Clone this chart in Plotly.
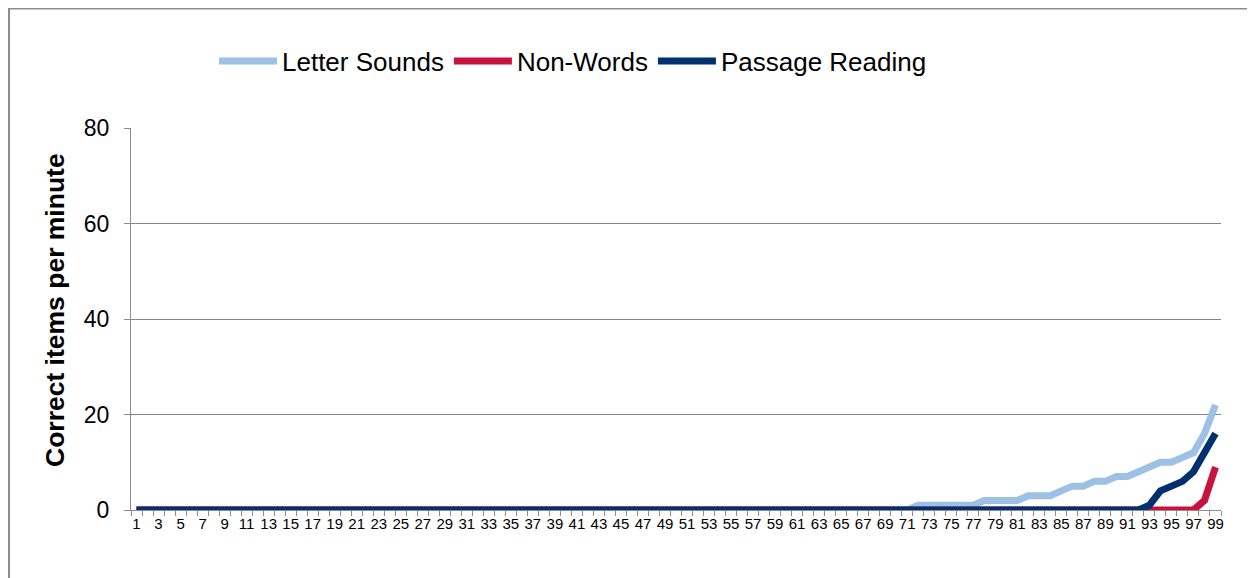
import plotly.graph_objects as go

categories = list(range(1, 100))
letter_sounds = [0] * 71 + [1] * 6 + [2] * 4 + [3] * 3 + [4, 5, 5, 6, 6, 7, 7] + [8, 9, 10, 10, 11, 12, 16, 22]
non_words = [0] * 97 + [2, 9]
passage_reading = [0] * 92 + [1, 4, 5, 6, 8, 12, 16]
x_tick_labels = [str(c) for c in categories if c % 2 == 1]
x_tick_vals = [c for c in categories if c % 2 == 1]
y_ticks = [0, 20, 40, 60, 80]

FONT = "Arial, Liberation Sans, sans-serif"
# page has an 8px body margin, so figure coordinates are page coordinates minus 8
W, H = 1247, 570
L, R, T, B = 123, 34, 120, 68

fig = go.Figure()
series = [
    ("Letter Sounds", letter_sounds, "#9DC0E5"),
    ("Non-Words", non_words, "#C8133E"),
    ("Passage Reading", passage_reading, "#003070"),
]
for name, vals, col in series:
    fig.add_trace(go.Scatter(x=categories, y=vals, name=name, mode="lines",
                             line=dict(color=col, width=7)))

pw = W - L - R
ph = H - T - B
fig.add_shape(type="rect", xref="paper", yref="paper",
              x0=(1 - L) / pw, x1=(W + 20 - L) / pw,
              y0=(H - B - (H + 20)) / ph, y1=(H - B - 0.5) / ph,
              line=dict(color="#8C8C8C", width=2), fillcolor="rgba(0,0,0,0)", layer="below")

fig.add_annotation(text="<b>Correct items per minute</b>", textangle=-90,
                   xref="paper", yref="paper", showarrow=False,
                   x=(47 - L) / pw, y=(H - B - 302) / ph, xanchor="center", yanchor="middle",
                   font=dict(size=26.5, family=FONT, color="black"))

fig.update_layout(
    width=W, height=H,
    margin=dict(l=L, r=R, t=T, b=B),
    paper_bgcolor="white", plot_bgcolor="white",
    font=dict(family=FONT, color="black"),
    showlegend=True,
    legend=dict(orientation="h", x=(206 - L) / pw, xanchor="left",
                y=(H - B - 53) / ph, yanchor="middle",
                font=dict(size=26, family=FONT), itemwidth=58,
                bgcolor="rgba(0,0,0,0)"),
    xaxis=dict(range=[0.5, 99.5], tickmode="array", tickvals=x_tick_vals, ticktext=x_tick_labels,
               ticks="", showgrid=False, zeroline=False,
               showline=True, linecolor="#8C8C8C", linewidth=1,
               tickfont=dict(size=15, family=FONT, color="black"),
               minor=dict(ticks="outside", tickmode="linear", tick0=0.5, dtick=1, ticklen=5,
                          tickcolor="#8C8C8C", tickwidth=1, showgrid=False)),
    yaxis=dict(range=[0, 80], tickvals=y_ticks, ticks="outside", ticklen=6, tickcolor="#8C8C8C",
               showgrid=True, gridcolor="#868686", gridwidth=1, zeroline=False,
               showline=True, linecolor="#8C8C8C", linewidth=1,
               tickfont=dict(size=23, family=FONT, color="black"),
               ticklabelstandoff=10),
)

fig.write_html("out.html")
